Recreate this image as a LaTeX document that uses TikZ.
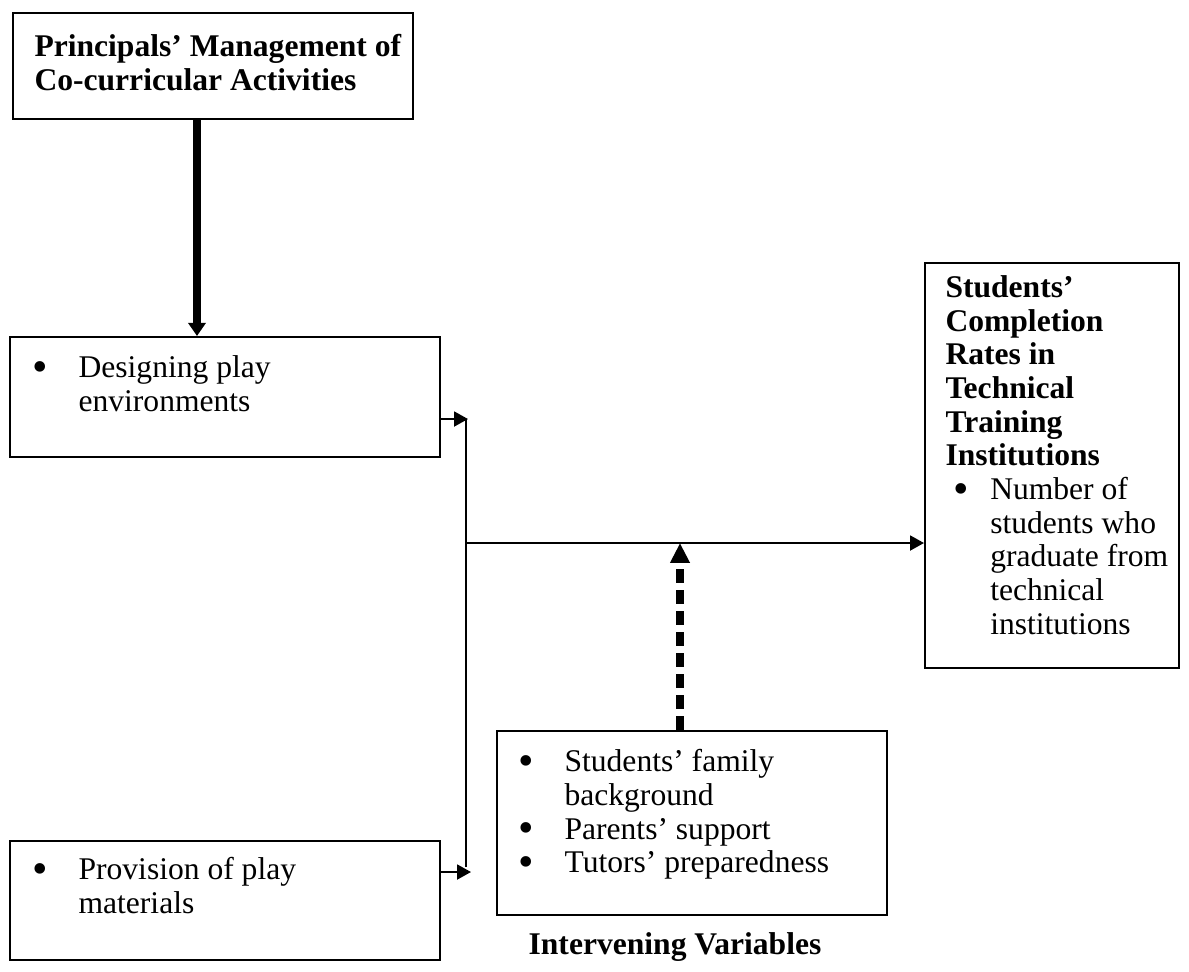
\documentclass[tikz,border=0pt]{standalone}
\usepackage{fontspec}
\usepackage{graphicx}
\setmainfont{Liberation Serif}
\usetikzlibrary{arrows.meta}
\newcommand\bul[1][17.5pt]{\makebox[#1][l]{\smash{\raisebox{-0.12em}{\scalebox{1.4}{\textbullet}}}}}
\newcommand\ind[1][17.5pt]{\hspace*{#1}}

\begin{document}
\begin{tikzpicture}[x=0.38pt,y=-0.38pt,font=\fontsize{12}{12.8}\selectfont]
\tikzstyle{every node}+=[inner sep=0pt]
\tikzstyle{box}=[draw,line width=0.6pt,anchor=north west]
\tikzstyle{txt}=[anchor=north west,align=left]
\tikzstyle{arr}=[line width=0.7pt,-{Triangle[length=5.3pt,width=5.7pt]}]
\tikzstyle{bigarr}=[line width=3.4pt,-{Triangle[length=5pt,width=6.5pt]}]
\tikzstyle{dasharr}=[line width=3pt,dash pattern=on 5.3pt off 2.7pt,-{Triangle[length=7.5pt,width=7pt]}]
\useasboundingbox (0,0) rectangle (1189,971);
% boxes
\node [box,minimum width=152pt,minimum height=40.3pt] (mgmt) at (12,12) {};
\node [box,minimum width=163.4pt,minimum height=45.6pt] (design) at (9,336) {};
\node [box,minimum width=163.4pt,minimum height=45.2pt] (provide) at (9,840) {};
\node [box,minimum width=148.2pt,minimum height=69.9pt] (interv) at (496,730) {};
\node [box,minimum width=96.5pt,minimum height=153.9pt] (outcome) at (924,262) {};
% texts
\node [txt] (mgmt-t) at (34,34) {\textbf{Principals’ Management of}\\\textbf{Co-curricular Activities}};
\node [txt] (design-t) at (32,355) {\bul Designing play\\\ind environments};
\node [txt] (provide-t) at (32,857) {\bul Provision of play\\\ind materials};
\node [txt] (interv-t) at (518,749) {\bul Students’ family\\\ind background\\\bul Parents’ support\\\bul Tutors’ preparedness};
\node [txt] (outcome-t) at (945,275) {\textbf{Students’}\\\textbf{Completion}\\\textbf{Rates in}\\\textbf{Technical}\\\textbf{Training}\\\textbf{Institutions}\\
  \ind[3pt]\bul[14pt]Number of\\\ind[17pt]students who\\\ind[17pt]graduate from\\\ind[17pt]technical\\\ind[17pt]institutions};
\node [anchor=base] (ivlabel) at (675,954) {\textbf{Intervening Variables}};
% connectors
\coordinate (bigx) at (197,0);
\draw [bigarr] (mgmt.south -| bigx) -- (design.north -| bigx);
\coordinate (j1) at (468,419);
\coordinate (jtop) at (466,419);
\coordinate (jbot) at (466,867);
\coordinate (j2) at (471,872);
\draw [arr] (design.east |- j1) -- (j1);
\draw [line width=0.7pt] (jtop) -- (jbot);
\draw [arr] (provide.east |- j2) -- (j2);
\coordinate (m0) at (465,543);
\draw [arr] (m0) -- (outcome.west |- m0);
\coordinate (d0) at (680,543);
\draw [dasharr] (interv.north -| d0) -- (d0);
\end{tikzpicture}
\end{document}
